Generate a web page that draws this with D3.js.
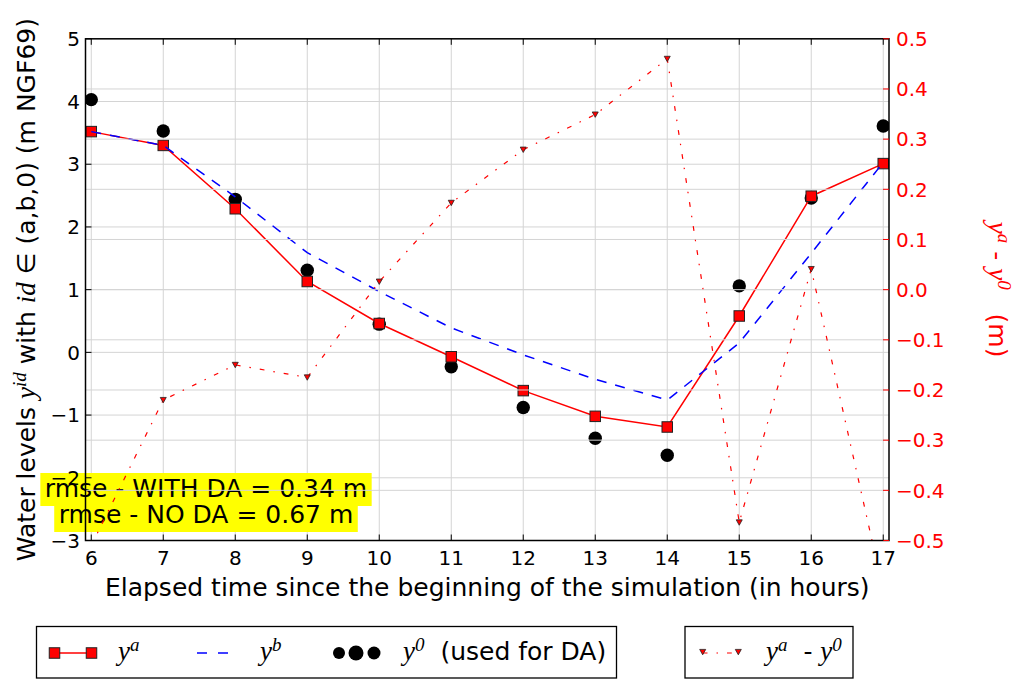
<!DOCTYPE html>
<html><head><meta charset="utf-8">
<script src="https://cdn.jsdelivr.net/npm/d3@7"></script>
<style>
body{margin:0;background:#fff}
svg{display:block}
text{font-family:"DejaVu Sans",sans-serif;white-space:pre}
</style>
</head><body><svg id="c" width="1015" height="681"></svg>
<script>
const hours = [6,7,8,9,10,11,12,13,14,15,16,17];
const yAnalysis = [3.52,3.30,2.29,1.13,0.46,-0.07,-0.61,-1.02,-1.19,0.58,2.49,3.01];
const yBackground = [3.52,3.30,2.48,1.59,0.97,0.39,-0.04,-0.43,-0.76,0.15,1.58,3.03];
const yObs = [4.03,3.53,2.44,1.31,0.45,-0.23,-0.88,-1.37,-1.64,1.06,2.46,3.61];
const diffAO = [-0.51,-0.22,-0.15,-0.175,0.016,0.173,0.279,0.349,0.46,-0.464,0.041,-0.60];
const leftTicks = [-3,-2,-1,0,1,2,3,4,5];
const rightTicks = [-0.5,-0.4,-0.3,-0.2,-0.1,0.0,0.1,0.2,0.3,0.4,0.5];
const xTicks = [6,7,8,9,10,11,12,13,14,15,16,17];
const rmseLines = ["rmse - WITH DA = 0.34 m","rmse - NO DA = 0.67 m"];
const xLabel = "Elapsed time since the beginning of the simulation (in hours)";

const svg = d3.select("#c");
svg.append("rect").attr("width",1015).attr("height",681).attr("fill","#fff");
const L=85.5,R=889,T=38.8,B=540.5;
const x = d3.scaleLinear().domain([5.92,17.08]).range([L,R]);
const yL = d3.scaleLinear().domain([-3,5]).range([B,T]);
const yR = d3.scaleLinear().domain([-0.5,0.5]).range([B,T]);
const fmtMinus = s => s.replace("-","\u2212");
const MATH = '"Liberation Serif","DejaVu Serif",serif';
const GRID = "#d4d4d4";

svg.append("clipPath").attr("id","clip").append("rect")
  .attr("x",L).attr("y",T).attr("width",R-L).attr("height",B-T);

// ---- ax1 grid
const g1 = svg.append("g").attr("clip-path","url(#clip)");
g1.selectAll("line.v").data(xTicks).join("line")
  .attr("x1",d=>x(d)).attr("x2",d=>x(d)).attr("y1",T).attr("y2",B)
  .attr("stroke",GRID).attr("stroke-width",1);
g1.selectAll("line.h").data(leftTicks).join("line")
  .attr("x1",L).attr("x2",R).attr("y1",d=>yL(d)).attr("y2",d=>yL(d))
  .attr("stroke",GRID).attr("stroke-width",1);

// observations (scatter, below lines)
g1.selectAll("circle.obs").data(hours).join("circle")
  .attr("cx",(d)=>x(d)).attr("cy",(d,i)=>yL(yObs[i])).attr("r",6.7).attr("fill","#000");

// analysis line with squares
const lineA = d3.line().x((d,i)=>x(hours[i])).y(d=>yL(d));
g1.append("path").attr("d",lineA(yAnalysis)).attr("fill","none").attr("stroke","red").attr("stroke-width",1.5);
g1.selectAll("rect.sq").data(yAnalysis).join("rect")
  .attr("x",(d,i)=>x(hours[i])-5.25).attr("y",d=>yL(d)-5.25)
  .attr("width",10.5).attr("height",10.5).attr("fill","red").attr("stroke","#222").attr("stroke-width",1);

// background dashed
g1.append("path").attr("d",lineA(yBackground)).attr("fill","none").attr("stroke","blue")
  .attr("stroke-width",1.5).attr("stroke-dasharray","10,9");

// ---- rmse text boxes
const rm = svg.append("g");
const rmBase = [497,523];
const rmTexts = rmseLines.map((t,i)=> rm.append("text").attr("x",206).attr("y",rmBase[i])
  .attr("text-anchor","middle").attr("font-size",25).attr("fill","#000").text(t));
rmTexts.forEach((tx,i)=>{
  const bb = tx.node().getBBox();
  rm.insert("rect","text").attr("x",bb.x-4.5).attr("y",rmBase[i]-24).attr("width",bb.width+9)
    .attr("height",33).attr("fill","#ffff00");
});

// ---- ax2 grid + diff line
const g2 = svg.append("g").attr("clip-path","url(#clip)");
g2.selectAll("line.h2").data(rightTicks).join("line")
  .attr("x1",L).attr("x2",R).attr("y1",d=>yR(d)).attr("y2",d=>yR(d))
  .attr("stroke",GRID).attr("stroke-width",1);
const lineD = d3.line().x((d,i)=>x(hours[i])).y(d=>yR(d));
g2.append("path").attr("d",lineD(diffAO)).attr("fill","none").attr("stroke","red")
  .attr("stroke-width",1.2).attr("stroke-dasharray","4.8,9,1.5,9");
const tri = "M-3,-2.6L3,-2.6L0,2.8Z";
g2.selectAll("path.tri").data(diffAO).join("path")
  .attr("d",tri).attr("transform",(d,i)=>`translate(${x(hours[i])},${yR(d)})`)
  .attr("fill","red").attr("stroke","#222").attr("stroke-width",0.8);

// ---- frame and ticks
svg.append("rect").attr("x",L).attr("y",T).attr("width",R-L).attr("height",B-T)
  .attr("fill","none").attr("stroke","#000").attr("stroke-width",1.5);
const tk = svg.append("g");
tk.selectAll("line.lt").data(leftTicks).join("line")
  .attr("x1",L).attr("x2",L+6).attr("y1",d=>yL(d)).attr("y2",d=>yL(d)).attr("stroke","#000");
tk.selectAll("line.rt").data(rightTicks).join("line")
  .attr("x1",R-6).attr("x2",R).attr("y1",d=>yR(d)).attr("y2",d=>yR(d)).attr("stroke","red");
tk.selectAll("line.bt").data(xTicks).join("line")
  .attr("x1",d=>x(d)).attr("x2",d=>x(d)).attr("y1",B).attr("y2",B-6).attr("stroke","#000");
tk.selectAll("line.tt").data(xTicks).join("line")
  .attr("x1",d=>x(d)).attr("x2",d=>x(d)).attr("y1",T).attr("y2",T+6).attr("stroke","#000");

// tick labels
tk.selectAll("text.lt").data(leftTicks).join("text")
  .attr("x",L-5.5).attr("y",d=>yL(d)).attr("dy","0.36em").attr("text-anchor","end")
  .attr("font-size",20).text(d=>fmtMinus(String(d)));
tk.selectAll("text.rt").data(rightTicks).join("text")
  .attr("x",R+7).attr("y",d=>yR(d)).attr("dy","0.36em").attr("text-anchor","start")
  .attr("font-size",20).attr("fill","red").text(d=>fmtMinus(d.toFixed(1)));
tk.selectAll("text.bt").data(xTicks).join("text")
  .attr("x",d=>x(d)).attr("y",565).attr("text-anchor","middle")
  .attr("font-size",20).text(d=>String(d));

// axis labels
svg.append("text").attr("x",(L+R)/2).attr("y",596).attr("text-anchor","middle")
  .attr("font-size",25).text(xLabel);

function richText(sel, parts, fill){
  // parts: [string, kind] kind: r regular, m math italic, s superscript
  let raised = false;
  parts.forEach(([s,k])=>{
    const ts = sel.append("tspan").text(s);
    if(k==="r"){ ts.attr("font-size",25); if(raised){ts.attr("dy",9); raised=false;} }
    else if(k==="m"){ ts.attr("font-size",27).attr("font-family",MATH).attr("font-style","italic");
      if(raised){ts.attr("dy",9); raised=false;} }
    else if(k==="s"){ ts.attr("font-size",19).attr("font-family",MATH).attr("font-style","italic");
      if(!raised){ts.attr("dy",-9); raised=true;} }
    if(fill) ts.attr("fill",fill);
  });
  return sel;
}

richText(svg.append("text").attr("transform",`translate(35,${(T+B)/2}) rotate(-90)`)
  .attr("text-anchor","middle"),
  [["Water levels ","r"],["y","m"],["id","s"],[" with ","r"],["id","m"],[" \u2208 (a,b,0) (m NGF69)","r"]]);

richText(svg.append("text").attr("transform",`translate(989,${(T+B)/2}) rotate(90)`)
  .attr("text-anchor","middle"),
  [["y","m"],["a","s"],[" - ","r"],["y","m"],["0","s"],["   (m)","r"]], "red");

// ---- legends
const lg = svg.append("g");
lg.append("rect").attr("x",36.5).attr("y",626.5).attr("width",580).attr("height",51.5)
  .attr("fill","#fff").attr("stroke","#000").attr("stroke-width",1.3);
lg.append("rect").attr("x",685).attr("y",626.5).attr("width",168).attr("height",51.5)
  .attr("fill","#fff").attr("stroke","#000").attr("stroke-width",1.3);
const ly = 653;
lg.append("line").attr("x1",54.5).attr("x2",91.5).attr("y1",ly).attr("y2",ly).attr("stroke","red").attr("stroke-width",1.5);
[54.5,91.5].forEach(cx=>lg.append("rect").attr("x",cx-5.25).attr("y",ly-5.25).attr("width",10.5).attr("height",10.5)
  .attr("fill","red").attr("stroke","#222"));
richText(lg.append("text").attr("x",118).attr("y",660),[["y","m"],["a","s"]]);
lg.append("line").attr("x1",197).attr("x2",230).attr("y1",ly).attr("y2",ly).attr("stroke","blue")
  .attr("stroke-width",1.5).attr("stroke-dasharray","10,11");
richText(lg.append("text").attr("x",260).attr("y",660),[["y","m"],["b","s"]]);
[[339,6],[356,7.5],[374,6.5]].forEach(([cx,r])=>lg.append("circle").attr("cx",cx).attr("cy",ly).attr("r",r).attr("fill","#000"));
richText(lg.append("text").attr("x",403).attr("y",660),[["y","m"],["0","s"],["  (used for DA)","r"]]);
lg.append("line").attr("x1",702.7).attr("x2",738.3).attr("y1",ly).attr("y2",ly).attr("stroke","red")
  .attr("stroke-width",1.2).attr("stroke-dasharray","4.8,9,1.5,9");
[702.7,738.3].forEach(cx=>lg.append("path").attr("d",tri).attr("transform",`translate(${cx},${ly-1})`)
  .attr("fill","red").attr("stroke","#222").attr("stroke-width",0.8));
richText(lg.append("text").attr("x",766).attr("y",660),[["y","m"],["a","s"],["  - ","r"],["y","m"],["0","s"]]);
</script></body></html>
